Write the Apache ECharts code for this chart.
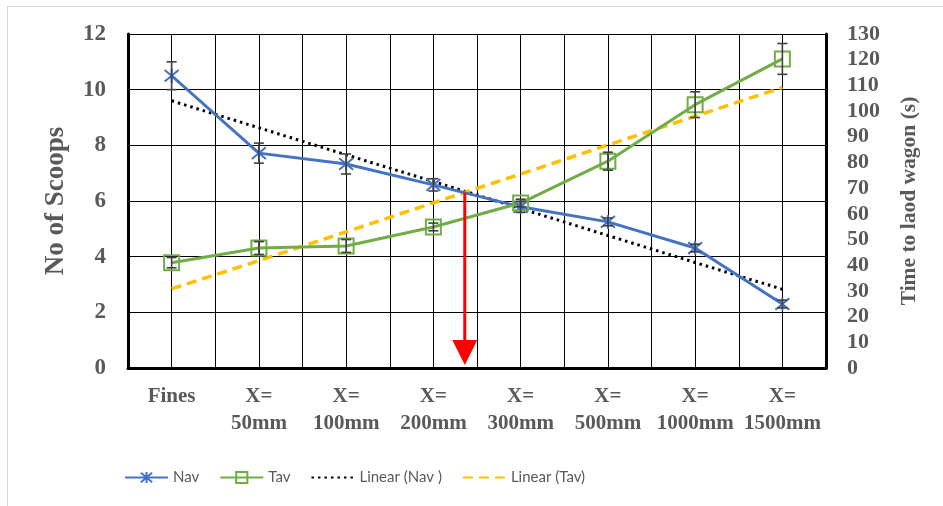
<!DOCTYPE html>
<html><head><meta charset="utf-8">
<script src="https://cdn.jsdelivr.net/npm/echarts@6/dist/echarts.min.js"></script>
<style>html,body{margin:0;padding:0;background:#fff}#c{width:943px;height:506px}</style>
</head><body><div id="c"></div>
<script>
const categories = ['Fines', 'X=\n50mm', 'X=\n100mm', 'X=\n200mm', 'X=\n300mm', 'X=\n500mm', 'X=\n1000mm', 'X=\n1500mm'];
const navValues = [10.5, 7.72, 7.33, 6.58, 5.79, 5.25, 4.31, 2.3];
const navErr = [0.5, 0.36, 0.36, 0.22, 0.2, 0.14, 0.14, 0.14];
const tavValues = [41, 46.7, 47.5, 54.9, 64.2, 80.5, 102.5, 120.3];
const tavErr = [2, 2.5, 2.5, 1.5, 1.5, 3.5, 5, 6];
const linearNav = [9.6, 8.63, 7.66, 6.7, 5.73, 4.76, 3.79, 2.83];
const linearTav = [30.8, 41.8, 53.0, 64.3, 75.5, 86.8, 98.0, 109.2];
const leftTicks = {min: 0, max: 12, interval: 2};
const rightTicks = {min: 0, max: 130, interval: 10};
const arrowX = 3.36;
const arrowTop = 6.3;

const gray = '#595959';
const serif = '"Liberation Serif","DejaVu Serif",serif';

function errData(vals, errs) { return vals.map((v, i) => [i, v - errs[i], v + errs[i]]); }
function errRender(params, api) {
  const x = api.value(0), lo = api.value(1), hi = api.value(2);
  const p1 = api.coord([x, hi]), p2 = api.coord([x, lo]);
  const w = 5, st = {stroke: '#404040', lineWidth: 1.6};
  return {type: 'group', children: [
    {type: 'line', shape: {x1: p1[0], y1: p1[1], x2: p2[0], y2: p2[1]}, style: st},
    {type: 'line', shape: {x1: p1[0] - w, y1: p1[1], x2: p1[0] + w, y2: p1[1]}, style: st},
    {type: 'line', shape: {x1: p2[0] - w, y1: p2[1], x2: p2[0] + w, y2: p2[1]}, style: st}
  ]};
}
function arrowRender(params, api) {
  const x = api.value(0), top = api.value(1);
  const pt = api.coord([x, top]), pb = api.coord([x, 0]);
  const hh = 25, hw = 12.5;
  return {type: 'group', children: [
    {type: 'line', shape: {x1: pt[0], y1: pt[1], x2: pb[0], y2: pb[1] - hh + 2}, style: {stroke: '#FF0000', lineWidth: 3}},
    {type: 'polygon', shape: {points: [[pb[0] - hw, pb[1] - hh - 3], [pb[0] + hw, pb[1] - hh - 3], [pb[0], pb[1] - 3]]}, style: {fill: '#FF0000'}}
  ]};
}

const chart = echarts.init(document.getElementById('c'));
chart.setOption({
  animation: false,
  backgroundColor: '#fff',
  graphic: [
    {type: 'line', shape: {x1: 7, y1: 6.5, x2: 943, y2: 6.5}, style: {stroke: '#d9d9d9', lineWidth: 1}},
    {type: 'line', shape: {x1: 7.5, y1: 6, x2: 7.5, y2: 506}, style: {stroke: '#d9d9d9', lineWidth: 1}}
  ],
  grid: {left: 128, right: 117, top: 34, bottom: 138},
  legend: {
    data: [
      {name: 'Nav'}, {name: 'Tav'},
      {name: 'Linear (Nav )', itemStyle: {opacity: 0}},
      {name: 'Linear (Tav)', itemStyle: {opacity: 0}}
    ],
    left: 119, top: 465, itemWidth: 43, itemHeight: 14, itemGap: 20,
    textStyle: {fontFamily: 'Lato', fontSize: 15, color: gray}
  },
  xAxis: [
    {type: 'category', data: categories, boundaryGap: true,
     axisLine: {show: true, onZero: false, lineStyle: {color: '#000', width: 3}},
     axisTick: {show: false}, splitLine: {show: false},
     axisLabel: {interval: 0, margin: 15, lineHeight: 27, fontFamily: serif, fontWeight: 'bold', fontSize: 21, color: gray}},
    {type: 'value', min: -0.5, max: 7.5, interval: 0.5, show: true, position: 'bottom',
     axisLine: {show: false, onZero: false}, axisTick: {show: false}, axisLabel: {show: false},
     splitLine: {show: true, lineStyle: {color: '#000', width: 1}}}
  ],
  yAxis: [
    {type: 'value', min: leftTicks.min, max: leftTicks.max, interval: leftTicks.interval,
     name: 'No of Scoops', nameLocation: 'middle', nameGap: 58, nameRotate: 90,
     nameTextStyle: {fontFamily: serif, fontWeight: 'bold', fontSize: 27, color: gray},
     axisLine: {show: true, onZero: false, lineStyle: {color: '#000', width: 3}}, axisTick: {show: false},
     axisLabel: {margin: 22, fontFamily: serif, fontWeight: 'bold', fontSize: 23, color: gray},
     splitLine: {show: true, lineStyle: {color: '#000', width: 1}}},
    {type: 'value', min: rightTicks.min, max: rightTicks.max, interval: rightTicks.interval, position: 'right',
     name: 'Time to laod wagon (s)', nameLocation: 'middle', nameGap: 72, nameRotate: 90,
     nameTextStyle: {fontFamily: serif, fontWeight: 'bold', fontSize: 21.5, color: gray},
     axisLine: {show: true, onZero: false, lineStyle: {color: '#000', width: 3}}, axisTick: {show: false},
     axisLabel: {margin: 21, fontFamily: serif, fontWeight: 'bold', fontSize: 22, color: gray},
     splitLine: {show: false}}
  ],
  series: [
    {name: 'Linear (Nav )', type: 'line', data: linearNav, xAxisIndex: 0, yAxisIndex: 0, symbol: 'none', z: 3,
     itemStyle: {color: '#000'}, lineStyle: {color: '#000', width: 3, type: [2.5, 4]}},
    {name: 'Linear (Tav)', type: 'line', data: linearTav, xAxisIndex: 0, yAxisIndex: 1, symbol: 'none', z: 3,
     itemStyle: {color: '#FFC000'}, lineStyle: {color: '#FFC000', width: 3.5, type: [10, 6]}},
    {name: 'Nav', type: 'line', data: navValues, xAxisIndex: 0, yAxisIndex: 0, z: 4,
     symbol: 'path://M0,0L10,10M10,0L0,10M5,-1L5,11', symbolSize: 14,
     itemStyle: {color: '#4472C4', borderColor: '#4472C4', borderWidth: 2},
     lineStyle: {color: '#4472C4', width: 3}},
    {name: 'Tav', type: 'line', data: tavValues, xAxisIndex: 0, yAxisIndex: 1, z: 4,
     symbol: 'rect', symbolSize: 15,
     itemStyle: {color: 'rgba(255,255,255,0)', borderColor: '#70AD47', borderWidth: 2},
     lineStyle: {color: '#70AD47', width: 3}},
    {name: 'navErr', type: 'custom', xAxisIndex: 0, yAxisIndex: 0, z: 5, renderItem: errRender,
     data: errData(navValues, navErr), encode: {x: 0, y: [1, 2]}},
    {name: 'tavErr', type: 'custom', xAxisIndex: 0, yAxisIndex: 1, z: 5, renderItem: errRender,
     data: errData(tavValues, tavErr), encode: {x: 0, y: [1, 2]}},
    {name: 'arrow', type: 'custom', xAxisIndex: 1, yAxisIndex: 0, z: 6, renderItem: arrowRender,
     data: [[arrowX, arrowTop]], encode: {x: 0, y: 1}}
  ]
});
</script></body></html>
